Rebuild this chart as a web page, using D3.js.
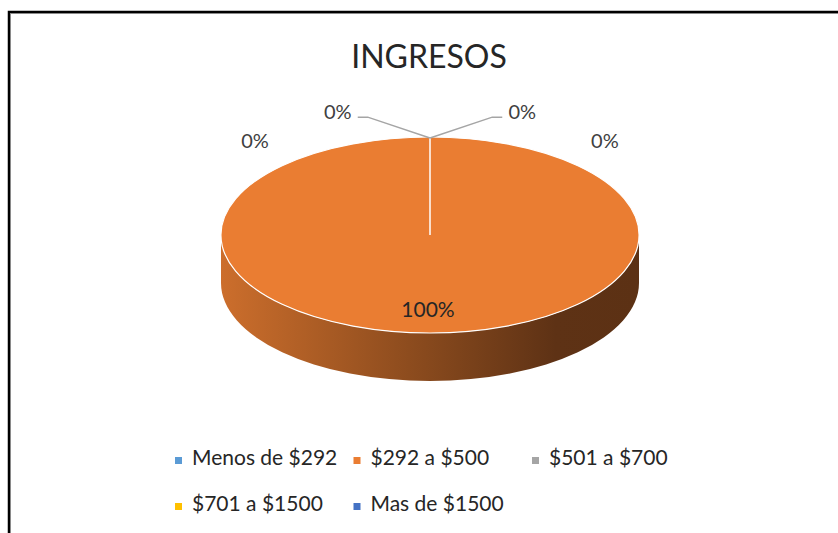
<!DOCTYPE html>
<html>
<head>
<meta charset="utf-8">
<script src="https://cdn.jsdelivr.net/npm/d3@7"></script>
<style>
  html, body { margin: 0; padding: 0; background: #fff; }
  svg { display: block; font-family: Lato, "Open Sans", sans-serif; }
</style>
</head>
<body>
<div id="chart"></div>
<script>
const title = "INGRESOS";
const categories = ["Menos de $292", "$292 a $500", "$501 a $700", "$701 a $1500", "Mas de $1500"];
const values = [0, 100, 0, 0, 0];
const colors = ["#5b9bd5", "#ea7d32", "#a5a5a5", "#ffc000", "#4472c4"];

const width = 838, height = 533;
const cx = 430, cy = 235, rx = 209, ry = 98, depth = 48;

const svg = d3.select("#chart").append("svg")
    .attr("width", width)
    .attr("height", height);

// frame (only the left and top edges fall inside the picture)
svg.append("rect")
    .attr("x", 9).attr("y", 12)
    .attr("width", 900).attr("height", 600)
    .attr("fill", "none")
    .attr("stroke", "#000")
    .attr("stroke-width", 2.5);
svg.append("rect")
    .attr("x", 10.5).attr("y", 13.5)
    .attr("width", 900).attr("height", 600)
    .attr("fill", "none")
    .attr("stroke", "#8a8a8a")
    .attr("stroke-width", 1);

svg.append("text")
    .attr("x", 429).attr("y", 68)
    .attr("text-anchor", "middle")
    .attr("font-size", 32)
    .attr("fill", "#262626")
    .text(title);

const total = d3.sum(values);
const pie = d3.pie().sort(null).value(d => d);
const arcs = pie(values);

// side wall gradient
const defs = svg.append("defs");
const grad = defs.append("linearGradient")
    .attr("id", "side")
    .attr("gradientUnits", "userSpaceOnUse")
    .attr("x1", cx - rx).attr("x2", cx + rx)
    .attr("y1", 0).attr("y2", 0);
grad.append("stop").attr("offset", 0).attr("stop-color", "#cc6e2c");
grad.append("stop").attr("offset", 0.45).attr("stop-color", "#8d4c1e");
grad.append("stop").attr("offset", 0.8).attr("stop-color", "#5e3215");
grad.append("stop").attr("offset", 1).attr("stop-color", "#5c3114");

const main = arcs.find(a => a.value > 0);

svg.append("path")
    .attr("d", `M${cx - rx},${cy} A${rx},${ry} 0 0 0 ${cx + rx},${cy} L${cx + rx},${cy + depth} A${rx},${ry} 0 0 1 ${cx - rx},${cy + depth} Z`)
    .attr("fill", "url(#side)");

const arc = d3.arc().innerRadius(0).outerRadius(rx);
const topFace = svg.append("g")
    .attr("transform", `translate(${cx},${cy}) scale(1,${ry / rx})`);

topFace.selectAll("path")
    .data(arcs.filter(a => a.value > 0))
    .join("path")
    .attr("d", arc)
    .attr("fill", d => colors[d.index])
    .attr("stroke", "#fff")
    .attr("stroke-width", 1.2)
    .attr("vector-effect", "non-scaling-stroke");

// slice border from center to start angle
topFace.append("line")
    .attr("x1", 0).attr("y1", 0)
    .attr("x2", rx * Math.sin(main.startAngle))
    .attr("y2", -rx * Math.cos(main.startAngle))
    .attr("stroke", "#fff")
    .attr("stroke-width", 1.5)
    .attr("vector-effect", "non-scaling-stroke");

// 100% label
const pct = d3.format(".0%");
svg.append("text")
    .attr("x", cx - 2).attr("y", 317)
    .attr("text-anchor", "middle")
    .attr("font-size", 21)
    .attr("fill", "#262626")
    .text(pct(main.value / total));

// zero slices: labels fanned out around the top of the pie
const zeros = arcs.filter(a => a.value === 0);
const fan = [-0.78, -0.38, 0.38, 0.78];
const lrx = rx * 1.19, lry = ry * 1.35;
zeros.forEach((a, k) => {
    const t = fan[k];
    const lx = cx + lrx * Math.sin(t);
    const ly = cy - lry * Math.cos(t);
    svg.append("text")
        .attr("x", lx).attr("y", ly + 7)
        .attr("text-anchor", "middle")
        .attr("font-size", 20)
        .attr("fill", "#404040")
        .text(pct(a.value / total));
    if (Math.abs(t) < 0.5) {
        const s = Math.sign(t);
        const px = cx + rx * Math.sin(a.startAngle);
        const py = cy - ry * Math.cos(a.startAngle) + 1;
        svg.append("polyline")
            .attr("points", [[px, py], [lx - s * 30, ly + 5], [lx - s * 20, ly + 5]].map(p => p.join(",")).join(" "))
            .attr("fill", "none")
            .attr("stroke", "#a5a5a5")
            .attr("stroke-width", 1.5);
    }
});

// legend
const legend = svg.append("g");
const item = legend.selectAll("g")
    .data(categories)
    .join("g")
    .attr("transform", (d, i) => `translate(${175 + (i % 3) * 178.5},${465 + Math.floor(i / 3) * 46})`);
item.append("rect")
    .attr("x", 0).attr("y", -8)
    .attr("width", 7).attr("height", 7)
    .attr("fill", (d, i) => colors[i]);
item.append("text")
    .attr("x", 17).attr("y", 0)
    .attr("font-size", 21)
    .attr("fill", "#262626")
    .text(d => d);
</script>
</body>
</html>
